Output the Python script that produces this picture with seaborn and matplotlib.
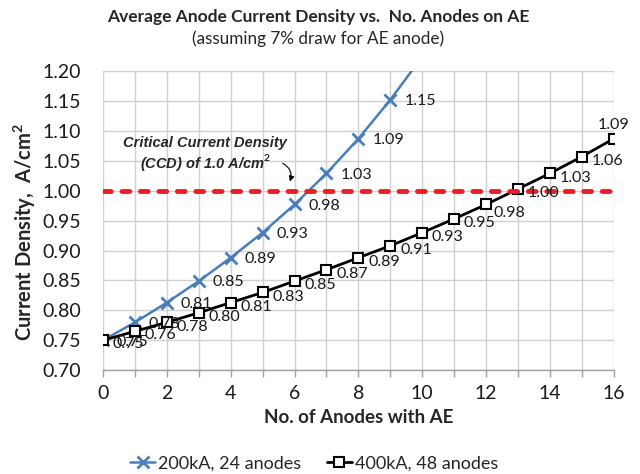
import matplotlib
matplotlib.use("Agg")
import matplotlib.pyplot as plt
import seaborn as sns
import pandas as pd

# ---- data ----
anodes_200 = [0, 1, 2, 3, 4, 5, 6, 7, 8, 9, 10]
cd_200 = [0.750, 0.780, 0.813, 0.849, 0.888, 0.930, 0.977, 1.029, 1.087, 1.152, 1.224]
labels_200 = ["0.75", "0.78", "0.81", "0.85", "0.89", "0.93", "0.98", "1.03", "1.09", "1.15"]

anodes_400 = list(range(17))
cd_400 = [0.750, 0.765, 0.780, 0.796, 0.813, 0.830, 0.849, 0.868, 0.888, 0.908,
          0.930, 0.953, 0.977, 1.003, 1.029, 1.057, 1.087]
labels_400 = ["0.75", "0.76", "0.78", "0.80", "0.81", "0.83", "0.85", "0.87", "0.89",
              "0.91", "0.93", "0.95", "0.98", "1.00", "1.03", "1.06", "1.09"]

ccd_x = [0, 16]
ccd_y = [1.0, 1.0]

series_200 = "200kA, 24 anodes"
series_400 = "400kA, 48 anodes"
title = "Average Anode Current Density vs.  No. Anodes on AE"
subtitle = "(assuming 7% draw for AE anode)"
xlabel = "No. of Anodes with AE"
ylabel = "Current Density,  A/cm$^\\mathbf{2}$"
ccd_text = "Critical Current Density\n(CCD) of 1.0 A/cm$^\\mathbf{2}$"

# ---- style ----
sns.set_theme(style="white")
plt.rcParams["font.family"] = ["Lato", "DejaVu Sans"]
plt.rcParams["mathtext.fontset"] = "custom"
plt.rcParams["mathtext.rm"] = "Lato"
plt.rcParams["mathtext.bf"] = "Lato:bold"

BLUE = "#4a7ebb"
RED = "#ee1c25"
GRID = "#d0d0d0"
TXT = "#1a1a1a"

fig = plt.figure(figsize=(6.4, 4.74), dpi=100)
ax = fig.add_axes([0.161, 0.219, 0.798, 0.631])

df200 = pd.DataFrame({"x": anodes_200, "y": cd_200})
df400 = pd.DataFrame({"x": anodes_400, "y": cd_400})
dfccd = pd.DataFrame({"x": ccd_x, "y": ccd_y})

sns.lineplot(data=dfccd, x="x", y="y", ax=ax, color=RED, linewidth=3.5,
             linestyle=(0, (1.6, 2.2)), dash_capstyle="round", zorder=4, legend=False)
sns.lineplot(data=df200, x="x", y="y", ax=ax, color=BLUE, linewidth=1.8,
             marker="x", markersize=8.5, markeredgewidth=2.0, markeredgecolor=BLUE,
             label=series_200, zorder=3)
sns.lineplot(data=df400, x="x", y="y", ax=ax, color="black", linewidth=2.0,
             marker="s", markersize=7.5, markerfacecolor="white", markeredgecolor="black",
             markeredgewidth=1.5, label=series_400, zorder=3)

# data labels
for xv, yv, t in zip(anodes_200, cd_200, labels_200):
    ax.annotate(t, (xv, yv), xytext=(10, -1), textcoords="offset points",
                ha="left", va="center", fontsize=11.5, color=TXT, zorder=5)
for xv, yv, t in zip(anodes_400, cd_400, labels_400):
    if xv == 16:
        off, ha = (0, 10), "center"
    elif xv == 12:
        off, ha = (5, -6), "left"
    else:
        off, ha = (7, -3), "left"
    ax.annotate(t, (xv, yv), xytext=off, textcoords="offset points",
                ha=ha, va="center", fontsize=11.5, color=TXT, zorder=5)

# CCD annotation
ax.text(3.2, 1.061, ccd_text, ha="center", va="center", fontsize=10.5,
        fontweight="bold", fontstyle="italic", family=["Liberation Sans", "DejaVu Sans"],
        linespacing=1.1)
ax.annotate("", xy=(5.82, 1.011), xytext=(5.55, 1.048),
            arrowprops=dict(arrowstyle="-|>", color="black", lw=0.8,
                            connectionstyle="arc3,rad=-0.5", mutation_scale=8))

# axes
ax.set_xlim(0, 16)
ax.set_ylim(0.70, 1.20)
ax.set_xticks(range(0, 17, 2))
ax.set_xticks(range(0, 17), minor=True)
yt = [0.70 + 0.05 * i for i in range(11)]
ax.set_yticks(yt)
ax.set_yticklabels([f"{v:.2f}" for v in yt])
ax.grid(True, which="both", color=GRID, linewidth=1.0)
ax.set_axisbelow(True)
for s in ["top", "right", "left"]:
    ax.spines[s].set_visible(False)
ax.spines["bottom"].set_color("#a0a0a0")
ax.spines["bottom"].set_linewidth(1.0)
ax.tick_params(axis="y", length=0, pad=16, labelsize=14, labelcolor=TXT)
ax.tick_params(axis="x", which="both", direction="out", length=5, width=1,
               color="#a0a0a0", pad=6, labelsize=14, labelcolor=TXT, bottom=True)
ax.set_xlabel(xlabel, fontsize=13.5, fontweight="bold", labelpad=5)
ax.set_ylabel(ylabel, fontsize=14.5, fontweight="bold")
ax.yaxis.set_label_coords(-0.128, 0.46)

fig.text(0.497, 0.964, title, ha="center", va="center", fontsize=12.5, fontweight="bold")
fig.text(0.497, 0.918, subtitle, ha="center", va="center", fontsize=12.3)

leg = ax.legend(loc="center", bbox_to_anchor=(0.413, 1 - (463 - 71) / 299.0),
                bbox_transform=ax.transAxes, ncol=2, frameon=False, fontsize=13,
                handlelength=1.4, columnspacing=1.4, handletextpad=0.15)

fig.savefig("out.png", dpi=100)
